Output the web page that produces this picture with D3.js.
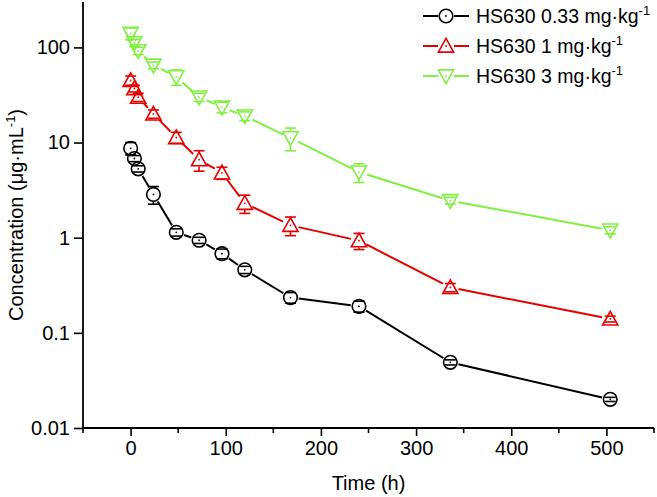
<!DOCTYPE html>
<html>
<head>
<meta charset="utf-8">
<script src="https://cdn.jsdelivr.net/npm/d3@7"></script>
<style>
  body { margin: 0; background: #fff; }
  svg text { font-family: "Liberation Sans", Arial, sans-serif; fill: #000; }
</style>
</head>
<body>
<div id="chart"></div>
<script>
// sampling times (h)
const times = [0.083, 4, 8, 24, 48, 72, 96, 120, 168, 240, 336, 504];

// mean concentration (ug/mL) and SD per dose group
const lowMean  = [8.7, 6.8, 5.3, 2.85, 1.14, 0.94, 0.68, 0.46, 0.235, 0.19, 0.049, 0.02];
const lowSd    = [1.3, 0.5, 0.4, 0.6, 0.1, 0.07, 0.08, 0.04, 0.03, 0.025, 0.003, 0.001];
const midMean  = [45, 37, 30, 20, 11.3, 6.6, 4.8, 2.3, 1.35, 0.93, 0.3, 0.14];
const midSd    = [5, 3, 3, 2, 1.5, 1.6, 0.7, 0.5, 0.3, 0.18, 0.03, 0.01];
const highMean = [140, 112, 92, 65, 49, 30, 23.5, 19, 11.2, 4.9, 2.45, 1.2];
const highSd   = [20, 10, 8, 5, 9, 3, 3, 2, 3, 1.1, 0.2, 0.1];

const seriesNames = ['HS630 0.33 mg\u00b7kg', 'HS630 1 mg\u00b7kg', 'HS630 3 mg\u00b7kg'];
const seriesColors = ['#000000', '#e60000', '#80f040'];
const seriesShapes = ['circle', 'up', 'down'];

const xTicks = [0, 100, 200, 300, 400, 500];
const xMinorTicks = [-50, 50, 150, 250, 350, 450, 550];
const yTicks = [0.01, 0.1, 1, 10, 100];

const series = [
  { name: seriesNames[0], color: seriesColors[0], shape: seriesShapes[0], mean: lowMean, sd: lowSd },
  { name: seriesNames[1], color: seriesColors[1], shape: seriesShapes[1], mean: midMean, sd: midSd },
  { name: seriesNames[2], color: seriesColors[2], shape: seriesShapes[2], mean: highMean, sd: highSd },
];

const width = 657, height = 497;
const margin = { left: 83, right: 3, top: 2, bottom: 69 };
const fontSize = 20;

const svg = d3.select('#chart').append('svg')
  .attr('width', width)
  .attr('height', height);

const x = d3.scaleLinear()
  .domain([-50, 550])
  .range([margin.left, width - margin.right]);
const y = d3.scaleLog()
  .domain([0.01, 300])
  .range([height - margin.bottom, margin.top]);

const r = 6.8;      // marker radius
const capW = 5.5;   // half cap width

function markerPath(shape, cx, cy) {
  const s = r * 1.12;
  if (shape === 'up') {
    return `M${cx},${cy - s}L${cx + s},${cy + s * 0.8}L${cx - s},${cy + s * 0.8}Z`;
  }
  return `M${cx},${cy + s}L${cx + s},${cy - s * 0.8}L${cx - s},${cy - s * 0.8}Z`;
}

function drawMarker(g, shape, cx, cy, color) {
  if (shape === 'circle') {
    g.append('circle')
      .attr('cx', cx).attr('cy', cy).attr('r', r)
      .attr('fill', 'none').attr('stroke', color).attr('stroke-width', 1.6);
  } else {
    g.append('path')
      .attr('d', markerPath(shape, cx, cy))
      .attr('fill', 'none').attr('stroke', color).attr('stroke-width', 1.6);
  }
  g.append('circle')
    .attr('cx', cx).attr('cy', cy).attr('r', 0.9)
    .attr('fill', color);
}

// axes
const xAxis = d3.axisBottom(x).tickValues(xTicks).tickSize(8).tickSizeOuter(0).tickPadding(5);
const gx = svg.append('g')
  .attr('class', 'x axis')
  .attr('transform', `translate(0,${y(0.01)})`)
  .call(xAxis);
gx.selectAll('.tick line').attr('stroke-width', 1.6);
gx.select('.domain').attr('stroke-width', 1.8).attr('d', `M${x(-50)},0H${x(550)}`);
gx.selectAll('text').attr('font-size', fontSize);

svg.append('g')
  .attr('class', 'x minor')
  .selectAll('line')
  .data(xMinorTicks)
  .enter()
  .append('line')
  .attr('x1', d => x(d)).attr('x2', d => x(d))
  .attr('y1', y(0.01)).attr('y2', y(0.01) + 5)
  .attr('stroke', '#000').attr('stroke-width', 1.6);

const yAxis = d3.axisLeft(y).tickValues(yTicks).tickFormat(d => String(d)).tickSize(9).tickSizeOuter(0).tickPadding(4);
const gy = svg.append('g')
  .attr('class', 'y axis')
  .attr('transform', `translate(${x(-50)},0)`)
  .call(yAxis);
gy.selectAll('.tick line').attr('stroke-width', 1.6);
gy.select('.domain').attr('stroke-width', 1.8).attr('d', `M0,${y(300)}V${y(0.01)}`);
gy.selectAll('text').attr('font-size', fontSize);

// axis titles
svg.append('text')
  .attr('x', (x(-50) + x(550)) / 2)
  .attr('y', 490)
  .attr('text-anchor', 'middle')
  .attr('font-size', fontSize)
  .text('Time (h)');

const yTitle = svg.append('text')
  .attr('transform', `translate(23,${(y(300) + y(0.01)) / 2}) rotate(-90)`)
  .attr('text-anchor', 'middle')
  .attr('font-size', fontSize);
yTitle.append('tspan').text('Concentration (\u03bcg\u00b7mL');
yTitle.append('tspan').attr('font-size', 13).attr('dy', -8).text('-1');
yTitle.append('tspan').attr('dy', 8).text(')');

// plots
const plots = svg.append('g').attr('class', 'plots');

series.forEach(s => {
  const g = plots.append('g').attr('class', 'series');
  const pts = times.map((t, i) => ({ px: x(t), py: y(s.mean[i]), mean: s.mean[i], sd: s.sd[i] }));

  // connecting lines with gaps at the markers
  const gap = r + 1.5;
  for (let i = 0; i < pts.length - 1; i++) {
    const a = pts[i], b = pts[i + 1];
    const dx = b.px - a.px, dy = b.py - a.py;
    const len = Math.sqrt(dx * dx + dy * dy);
    if (len <= 2 * gap) continue;
    const ux = dx / len, uy = dy / len;
    g.append('line')
      .attr('x1', a.px + ux * gap).attr('y1', a.py + uy * gap)
      .attr('x2', b.px - ux * gap).attr('y2', b.py - uy * gap)
      .attr('stroke', s.color).attr('stroke-width', 2);
  }

  // error bars
  pts.forEach(p => {
    const yHi = y(p.mean + p.sd);
    const yLo = y(Math.max(p.mean - p.sd, 0.0105));
    if (yHi < p.py - r) {
      g.append('line')
        .attr('x1', p.px).attr('x2', p.px)
        .attr('y1', yHi).attr('y2', p.py - r)
        .attr('stroke', s.color).attr('stroke-width', 1.6);
    }
    if (yLo > p.py + r) {
      g.append('line')
        .attr('x1', p.px).attr('x2', p.px)
        .attr('y1', p.py + r).attr('y2', yLo)
        .attr('stroke', s.color).attr('stroke-width', 1.6);
    }
    [yHi, yLo].forEach(yy => {
      g.append('line')
        .attr('x1', p.px - capW).attr('x2', p.px + capW)
        .attr('y1', yy).attr('y2', yy)
        .attr('stroke', s.color).attr('stroke-width', 1.6);
    });
  });

  pts.forEach(p => drawMarker(g, s.shape, p.px, p.py, s.color));
});

// legend
const legend = svg.append('g').attr('class', 'legend');
series.forEach((s, i) => {
  const cy = 16 + i * 30;
  const row = legend.append('g');
  row.append('line')
    .attr('x1', 423).attr('x2', 438).attr('y1', cy).attr('y2', cy)
    .attr('stroke', s.color).attr('stroke-width', 2);
  row.append('line')
    .attr('x1', 454).attr('x2', 469).attr('y1', cy).attr('y2', cy)
    .attr('stroke', s.color).attr('stroke-width', 2);
  drawMarker(row, s.shape, 446, cy, s.color);
  const t = row.append('text')
    .attr('x', 476).attr('y', cy + 7)
    .attr('font-size', 19.5);
  t.append('tspan').text(s.name);
  t.append('tspan').attr('font-size', 13).attr('dy', -8).text('-1');
});
</script>
</body>
</html>
